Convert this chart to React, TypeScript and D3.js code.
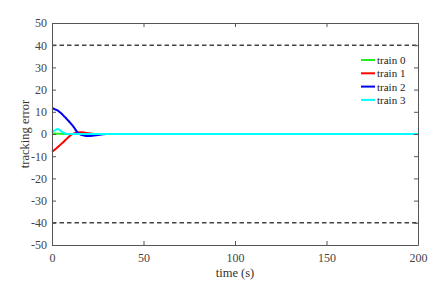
import React, {useRef, useEffect} from "react";
import {select, scaleLinear, line, curveMonotoneX, axisBottom, axisLeft, axisTop, axisRight} from "d3";

const time = [0, 1, 2, 3, 4, 5, 6, 7, 8, 10, 12, 14, 16, 18, 20, 22, 24, 26, 28, 30, 40, 200];
const train0 = [0.2, 0.2, 0.2, 0.1, 0.1, 0.1, 0, 0, 0, 0, 0, 0, 0, 0, 0, 0, 0, 0, 0, 0, 0, 0];
const train1 = [-8.0, -7.4, -6.8, -6.0, -5.3, -4.5, -3.8, -3.0, -2.2, -0.7, 0.3, 0.7, 0.8, 0.6, 0.3, 0.1, 0, 0, 0, 0, 0, 0];
const train2 = [11.6, 11.4, 11.0, 10.6, 10.0, 9.3, 8.5, 7.7, 6.8, 5.0, 3.0, 0.6, -0.4, -0.8, -0.9, -0.8, -0.6, -0.3, -0.1, 0, 0, 0];
const train3 = [0.8, 1.4, 1.9, 2.2, 1.9, 1.3, 0.7, 0.3, 0.1, 0, 0, 0, 0, 0, 0, 0, 0, 0, 0, 0, 0, 0];
const seriesNames = ["train 0", "train 1", "train 2", "train 3"];
const seriesColors = ["#22ee22", "#ff0000", "#0000ee", "#00ffff"];
const bound = [40, -40];
const xTicks = [0, 50, 100, 150, 200];
const yTicks = [-50, -40, -30, -20, -10, 0, 10, 20, 30, 40, 50];

export default function App() {
    const svgRef = useRef<SVGSVGElement | null>(null);
    const width = 446;
    const height = 287;
    const marginLeft = 52;
    const marginRight = 28;
    const marginTop = 23;
    const marginBottom = 42;
    const font = "Liberation Serif";

    useEffect(() => {
        const svg = select(svgRef.current);
        svg.selectAll("*").remove();
        const axisColor = "#555";

        const x = scaleLinear().domain([0, 200]).range([marginLeft, width - marginRight]);
        const y = scaleLinear().domain([-50, 50]).range([height - marginBottom, marginTop]);

        // dashed limits
        svg.selectAll(".bound")
            .data(bound)
            .join("line")
            .attr("class", "bound")
            .attr("x1", x(0))
            .attr("x2", x(200))
            .attr("y1", (d) => y(d))
            .attr("y2", (d) => y(d))
            .attr("stroke", "#444")
            .attr("stroke-width", 1.4)
            .attr("stroke-dasharray", "4.5,3");

        const all = [train0, train1, train2, train3];
        const path = line<number>()
            .x((d, i) => x(time[i]))
            .y((d) => y(d))
            .curve(curveMonotoneX);
        svg.selectAll(".series")
            .data(all)
            .join("path")
            .attr("class", "series")
            .attr("d", (d) => path(d))
            .attr("fill", "none")
            .attr("stroke", (d, i) => seriesColors[i])
            .attr("stroke-width", 2);

        // axes
        const fmt = (d: any) => String(d);
        const styleAxis = (g: any, labels: boolean) => {
            g.attr("font-family", null).attr("font-size", null);
            g.select(".domain").attr("stroke", axisColor);
            g.selectAll(".tick line").attr("stroke", axisColor);
            g.selectAll("text")
                .attr("fill", "#444")
                .attr("font-size", 12);
            if (!labels) g.selectAll("text").remove();
        };
        svg.append("g")
            .attr("transform", `translate(0,${y(-50)})`)
            .call(axisBottom(x).tickValues(xTicks).tickFormat(fmt).tickSizeInner(-4).tickSizeOuter(0).tickPadding(8))
            .call((g: any) => styleAxis(g, true));
        svg.append("g")
            .attr("transform", `translate(${x(0)},0)`)
            .call(axisLeft(y).tickValues(yTicks).tickFormat(fmt).tickSizeInner(-4).tickSizeOuter(0).tickPadding(5))
            .call((g: any) => styleAxis(g, true));
        svg.append("g")
            .attr("transform", `translate(0,${y(50)})`)
            .call(axisTop(x).tickValues(xTicks).tickSizeInner(-4).tickSizeOuter(0))
            .call((g: any) => styleAxis(g, false));
        svg.append("g")
            .attr("transform", `translate(${x(200)},0)`)
            .call(axisRight(y).tickValues(yTicks).tickSizeInner(-4).tickSizeOuter(0))
            .call((g: any) => styleAxis(g, false));

        // axis titles
        svg.append("text")
            .attr("x", (x(0) + x(200)) / 2)
            .attr("y", height - 10)
            .attr("text-anchor", "middle")
            .attr("fill", "#333")
            .attr("font-size", 12.5)
            .text("time (s)");
        svg.append("text")
            .attr("transform", `translate(${29},${y(0)}) rotate(-90)`)
            .attr("text-anchor", "middle")
            .attr("fill", "#333")
            .attr("font-size", 12.5)
            .text("tracking error");

        // legend
        const legend = svg.append("g").attr("transform", "translate(361,60)");
        seriesNames.forEach((name, i) => {
            legend.append("line")
                .attr("x1", 0)
                .attr("x2", 14)
                .attr("y1", i * 13.3)
                .attr("y2", i * 13.3)
                .attr("stroke", seriesColors[i])
                .attr("stroke-width", 2);
            legend.append("text")
                .attr("x", 16)
                .attr("y", i * 13.3 + 4)
                .attr("fill", "#222")
                .attr("font-size", 11)
                .text(name);
        });
    }, []);

    return (
        <div style={{position: "absolute", left: 0, top: 0}}>
            <svg ref={svgRef} width={width} height={height} fontFamily={font} style={{display: "block", background: "white"}}></svg>
        </div>
    );
}
